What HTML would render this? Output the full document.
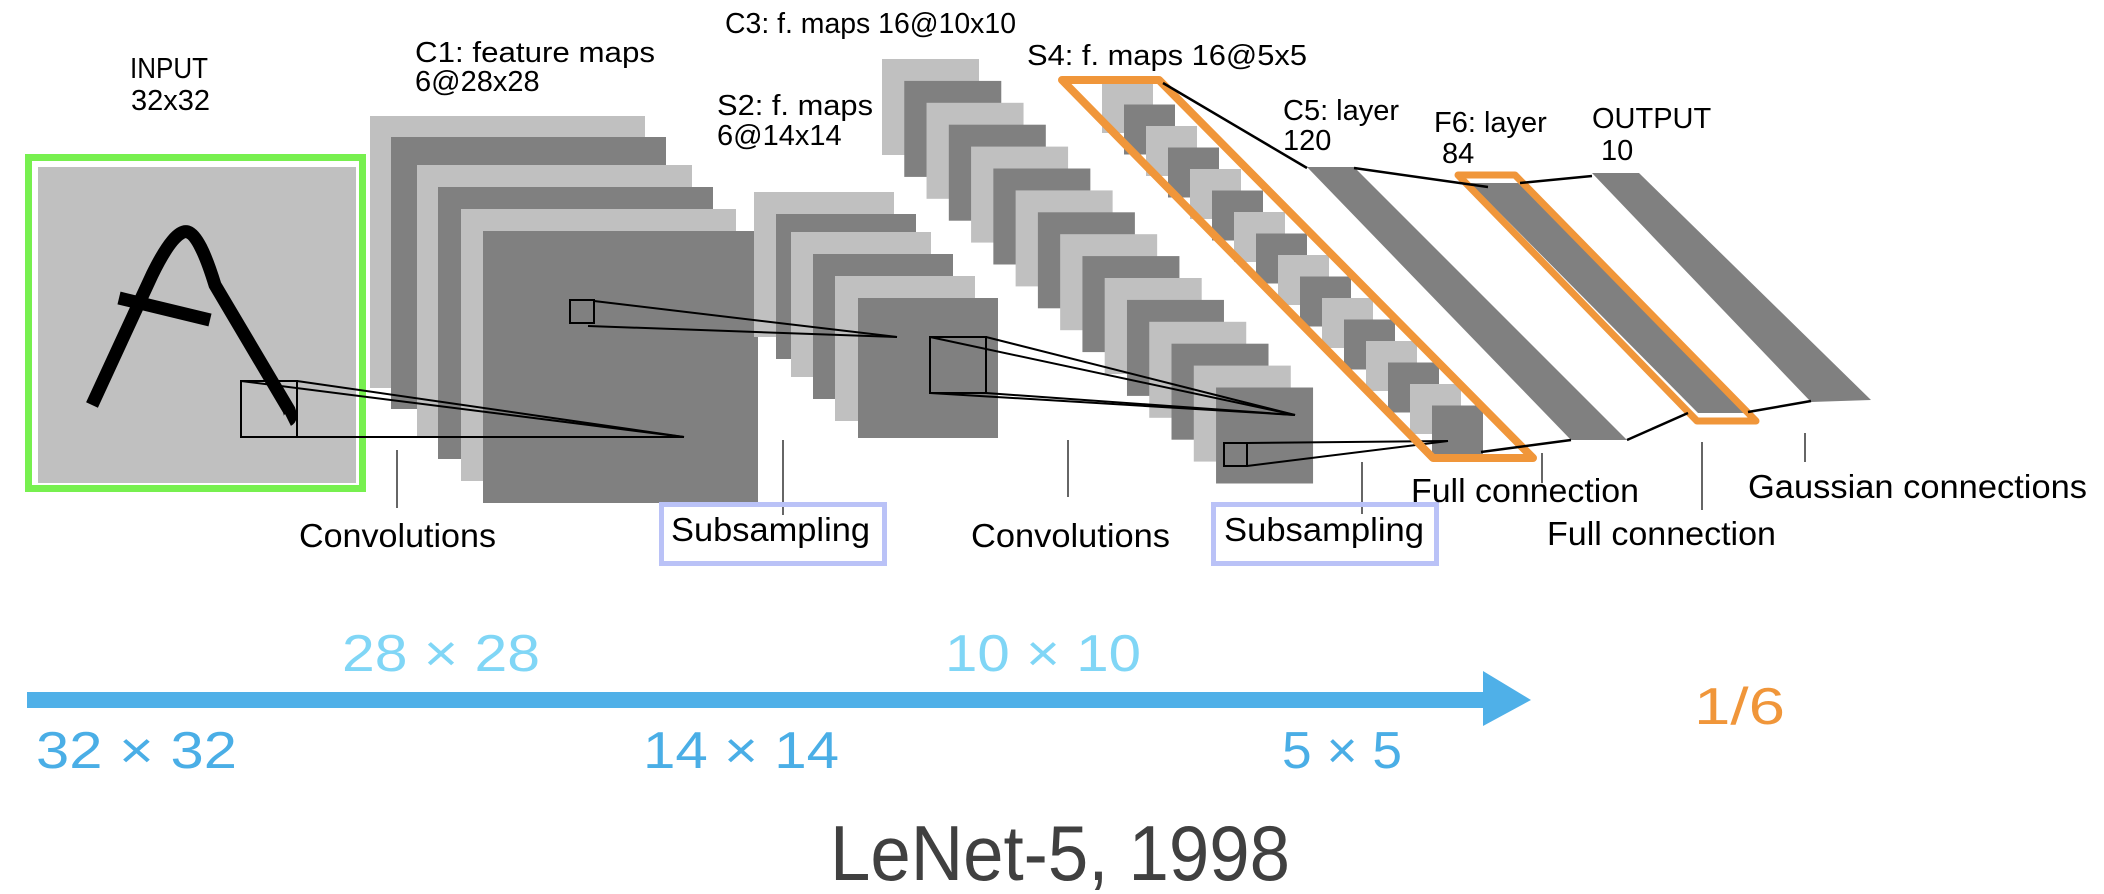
<!DOCTYPE html>
<html><head><meta charset="utf-8"><style>
html,body{margin:0;padding:0;background:#fff;}
svg{display:block;font-family:"Liberation Sans",Arial,sans-serif;}
</style></head><body>
<svg width="2104" height="894" viewBox="0 0 2104 894" xmlns="http://www.w3.org/2000/svg">
<g font-size="29" fill="#000">
<text x="130" y="78" textLength="78" lengthAdjust="spacingAndGlyphs">INPUT</text>
<text x="131" y="110">32x32</text>
<text x="415" y="62" textLength="240" lengthAdjust="spacingAndGlyphs">C1: feature maps</text>
<text x="415" y="91">6@28x28</text>
<text x="725" y="33" textLength="291" lengthAdjust="spacingAndGlyphs">C3: f. maps 16@10x10</text>
<text x="717" y="115" textLength="156" lengthAdjust="spacingAndGlyphs">S2: f. maps</text>
<text x="717" y="145">6@14x14</text>
<text x="1027" y="65" textLength="280" lengthAdjust="spacingAndGlyphs">S4: f. maps 16@5x5</text>
<text x="1283" y="120">C5: layer</text>
<text x="1283" y="150">120</text>
<text x="1434" y="132">F6: layer</text>
<text x="1442" y="163">84</text>
<text x="1592" y="128">OUTPUT</text>
<text x="1601" y="160">10</text>
</g>

<g>
<rect x="38" y="167" width="318" height="316" fill="#c0c0c0"/>
<rect x="28.5" y="157.5" width="334" height="331" fill="none" stroke="#77f04f" stroke-width="7"/>
<path d="M92,405 L152,275 Q175,228 188,232 Q200,236 215,285 L289,410 Q292,418 288,420" fill="none" stroke="#000" stroke-width="13"/>
<line x1="119" y1="298" x2="210" y2="320" stroke="#000" stroke-width="13"/>
</g>

<g>
<rect x="370" y="116" width="275" height="272" fill="#c0c0c0"/>
<rect x="391" y="137" width="275" height="272" fill="#808080"/>
<rect x="417" y="165" width="275" height="272" fill="#c0c0c0"/>
<rect x="438" y="187" width="275" height="272" fill="#808080"/>
<rect x="461" y="209" width="275" height="272" fill="#c0c0c0"/>
<rect x="483" y="231" width="275" height="272" fill="#808080"/>
</g>

<g>
<rect x="754" y="192" width="140" height="145" fill="#c0c0c0"/>
<rect x="776" y="214" width="140" height="145" fill="#808080"/>
<rect x="791" y="232" width="140" height="145" fill="#c0c0c0"/>
<rect x="813" y="254" width="140" height="145" fill="#808080"/>
<rect x="835" y="276" width="140" height="145" fill="#c0c0c0"/>
<rect x="858" y="298" width="140" height="140" fill="#808080"/>
</g>

<g id="c3"></g>
<g id="s4"></g>

<g fill="none" stroke="#000" stroke-width="2">
<rect x="241" y="381" width="56" height="56"/>
<line x1="241" y1="381" x2="684" y2="437"/>
<line x1="297" y1="381" x2="684" y2="437"/>
<line x1="241" y1="437" x2="684" y2="437"/>
<rect x="570" y="300" width="24" height="23"/>
<line x1="594" y1="301" x2="897" y2="337"/>
<line x1="588" y1="326" x2="897" y2="337"/>
<rect x="930" y="337" width="56" height="56"/>
<line x1="930" y1="337" x2="1295" y2="415"/>
<line x1="986" y1="337" x2="1295" y2="415"/>
<line x1="930" y1="393" x2="1295" y2="415"/>
<line x1="986" y1="393" x2="1295" y2="415"/>
<rect x="1224" y="443" width="23" height="23"/>
<line x1="1247" y1="443" x2="1448" y2="441"/>
<line x1="1247" y1="466" x2="1448" y2="441"/>
</g>

<g>
<polygon points="1307,167 1354,167 1627,440 1571,440" fill="#808080"/>
<polygon points="1470,183 1520,183 1748,413 1698,413" fill="#808080"/>
<polygon points="1592,173 1639,173 1871,400 1811,402" fill="#808080"/>
<polygon points="1062,80 1159,80 1533,458 1433,458" fill="none" stroke="#f0963a" stroke-width="8" stroke-linejoin="round"/>
<polygon points="1458,175 1515,175 1756,421 1697,421" fill="none" stroke="#f0963a" stroke-width="7" stroke-linejoin="round"/>
<g stroke="#000" stroke-width="2.5">
<line x1="1163" y1="83" x2="1307" y2="168"/>
<line x1="1354" y1="168" x2="1488" y2="187"/>
<line x1="1520" y1="183" x2="1592" y2="176"/>
<line x1="1481" y1="452" x2="1571" y2="440"/>
<line x1="1627" y1="440" x2="1688" y2="413"/>
<line x1="1748" y1="412" x2="1811" y2="401"/>
</g>
</g>

<g stroke="#333" stroke-width="1.5">
<line x1="397" y1="450" x2="397" y2="508"/>
<line x1="783" y1="440" x2="783" y2="515"/>
<line x1="1068" y1="440" x2="1068" y2="497"/>
<line x1="1362" y1="462" x2="1362" y2="514"/>
<line x1="1542" y1="453" x2="1542" y2="483"/>
<line x1="1702" y1="442" x2="1702" y2="510"/>
<line x1="1805" y1="433" x2="1805" y2="462"/>
</g>

<rect x="661.5" y="504.5" width="223" height="59" fill="none" stroke="#bac2f7" stroke-width="5"/>
<rect x="1213.5" y="504.5" width="223" height="59" fill="none" stroke="#bac2f7" stroke-width="5"/>

<g font-size="33" fill="#000">
<text x="299" y="547" textLength="197" lengthAdjust="spacingAndGlyphs">Convolutions</text>
<text x="671" y="541" textLength="199" lengthAdjust="spacingAndGlyphs">Subsampling</text>
<text x="971" y="547" textLength="199" lengthAdjust="spacingAndGlyphs">Convolutions</text>
<text x="1224" y="541" textLength="200" lengthAdjust="spacingAndGlyphs">Subsampling</text>
<text x="1411" y="502" textLength="228" lengthAdjust="spacingAndGlyphs">Full connection</text>
<text x="1547" y="545" textLength="229" lengthAdjust="spacingAndGlyphs">Full connection</text>
<text x="1748" y="498" textLength="339" lengthAdjust="spacingAndGlyphs">Gaussian connections</text>
</g>

<g fill="#4fb0e8">
<rect x="27" y="692" width="1457" height="16"/>
<polygon points="1483,671 1531,700 1483,726"/>
</g>

<g font-size="52">
<text x="342" y="671" fill="#80d6f6" textLength="198" lengthAdjust="spacingAndGlyphs">28 × 28</text>
<text x="945" y="671" fill="#80d6f6" textLength="196" lengthAdjust="spacingAndGlyphs">10 × 10</text>
<text x="36" y="768" fill="#4aaee6" textLength="201" lengthAdjust="spacingAndGlyphs">32 × 32</text>
<text x="643" y="768" fill="#4aaee6" textLength="196" lengthAdjust="spacingAndGlyphs">14 × 14</text>
<text x="1282" y="768" fill="#4aaee6" textLength="120" lengthAdjust="spacingAndGlyphs">5 × 5</text>
<text x="1694" y="724" fill="#f0963a" textLength="91" lengthAdjust="spacingAndGlyphs">1/6</text>
</g>

<text x="830" y="880" font-size="78" fill="#404040" textLength="460" lengthAdjust="spacingAndGlyphs">LeNet-5, 1998</text>
</svg>
<script>
var NS='http://www.w3.org/2000/svg';
var c3Count=16, s4Count=16;
var c3=document.getElementById('c3');
for(var i=0;i<c3Count;i++){
  var r=document.createElementNS(NS,'rect');
  r.setAttribute('x',882+i*22.27);r.setAttribute('y',59+i*21.9);
  r.setAttribute('width',97);r.setAttribute('height',96);
  r.setAttribute('fill',i%2?'#808080':'#c0c0c0');
  
  
  c3.appendChild(r);
}
var s4=document.getElementById('s4');
for(var j=0;j<s4Count;j++){
  var q=document.createElementNS(NS,'rect');
  q.setAttribute('x',1102+j*22);q.setAttribute('y',83+j*21.5);
  q.setAttribute('width',51);q.setAttribute('height',50);
  q.setAttribute('fill',j%2?'#808080':'#c0c0c0');
  
  
  s4.appendChild(q);
}
</script>
</body></html>
